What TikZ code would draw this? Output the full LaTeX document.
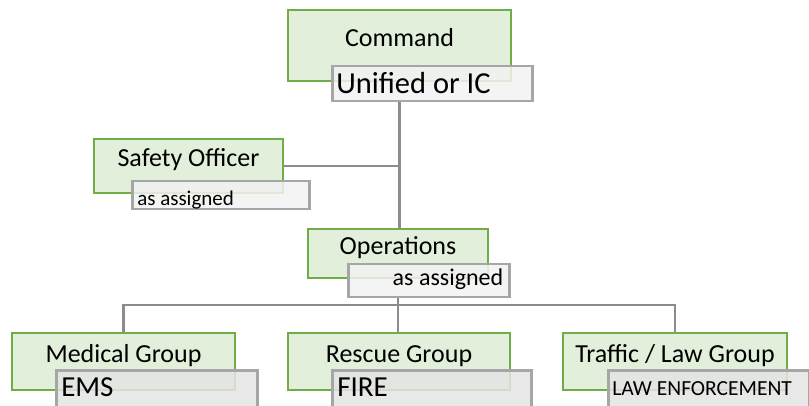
\documentclass[tikz,border=0pt]{standalone}
\usepackage{fontspec}
\setmainfont{Carlito}
\usepackage{tikz}
\usetikzlibrary{backgrounds}
\definecolor{rolefill}{HTML}{E2EFDA}
\definecolor{roleline}{HTML}{70AD47}
\definecolor{tagfill}{HTML}{F2F2F2}
\definecolor{tagfilldark}{HTML}{E4E4E4}
\definecolor{tagline}{HTML}{A6A6A6}
\definecolor{linkgray}{HTML}{8C8C8C}
\newcommand{\fs}[1]{\fontsize{#1}{#1}\selectfont}

\begin{document}
\begin{tikzpicture}[x=1pt, y=-1pt,
  role/.style={draw=roleline, fill=rolefill, line width=2pt, anchor=north west,
    inner sep=0pt, minimum height=54pt, text height=19pt, text depth=17pt, font=\fs{26}},
  tag/.style={draw=tagline, fill=tagfill, fill opacity=0.85, text opacity=1,
    line width=2.5pt, anchor=north west, inner xsep=5pt, inner ysep=0pt, align=flush left},
  link/.style={draw=linkgray, line width=2.5pt}]

% frame
\useasboundingbox (0,0) rectangle (809,406);
\clip (0,0) rectangle (809,406);

% command
\node[role, minimum width=223pt, minimum height=71pt] (cmd) at (287,9) {Command};
\node[tag, inner xsep=4pt, text width=192pt, minimum height=35pt, text height=20pt,
  text depth=1pt, font=\fs{30.5}] (unified) at (331,65) {Unified or IC};

% safety officer
\node[role, minimum width=189pt] (safety) at (93,138) {Safety Officer};
\node[tag, text width=167pt, minimum height=28pt, text height=20pt, text depth=0pt,
  font=\fs{21}] (safetytag) at (131,180) {as assigned};

% operations
\node[role, minimum width=180pt, minimum height=49pt] (ops) at (307,228) {Operations};
\node[tag, align=flush right, inner xsep=6pt, text width=149pt, minimum height=33pt,
  text height=16pt, text depth=7pt, font=\fs{24}] (opstag) at (347,263) {as assigned};

% groups
\node[role, minimum width=223pt, minimum height=57pt] (medical) at (11,332) {Medical Group};
\node[role, minimum width=222pt, minimum height=57pt] (rescue) at (287,332) {Rescue Group};
\node[role, minimum width=224pt, minimum height=57pt] (traffic) at (562,332) {Traffic / Law Group};

\node[tag, fill=tagfilldark, text width=191pt, minimum height=50pt, text height=18pt,
  text depth=16pt, font=\fs{29}] (emstag) at (55,369) {EMS};
\node[tag, fill=tagfilldark, text width=189pt, minimum height=50pt, text height=18pt,
  text depth=16pt, font=\fs{29}] (firetag) at (331,369) {FIRE};
\node[tag, fill=tagfilldark, inner xsep=4pt, text width=193pt, minimum height=50pt,
  text height=14pt, text depth=14pt, font=\fs{21.5}] (lawtag) at (607,369) {LAW ENFORCEMENT};

% connectors
\coordinate (bus) at (398,305);
\begin{scope}[on background layer]
\draw[link] (cmd.center |- unified.south) -- (cmd.center |- ops.north);
\draw[link] (safety.east) -- (safety.east -| cmd.center);
\draw[link] (opstag.south -| bus) -- (rescue.north -| bus);
\draw[link] (medical.north) |- (bus) -| (traffic.north);
\end{scope}

\end{tikzpicture}
\end{document}
